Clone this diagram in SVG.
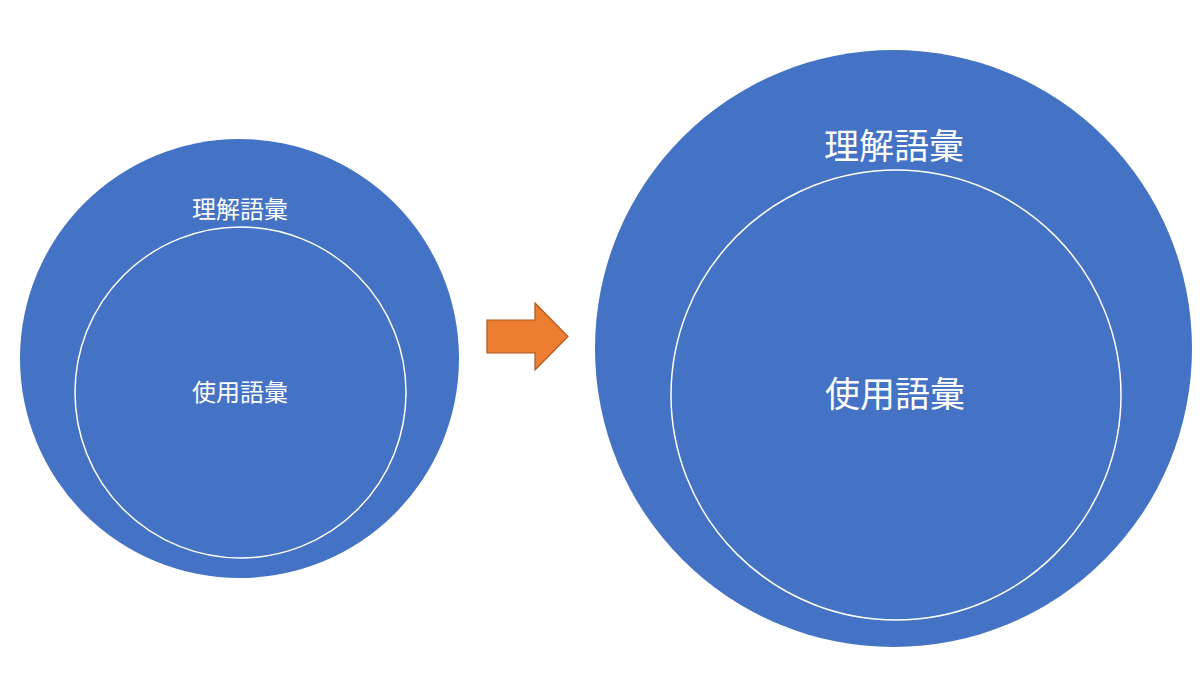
<svg xmlns="http://www.w3.org/2000/svg" width="1200" height="674" viewBox="0 0 1200 674">
<style>
.outer{fill:#4472C4}
.inner{fill:#4472C4;stroke:#fff;stroke-width:1.5}
text{fill:#fff;font-family:"Noto Sans CJK JP","Noto Sans CJK SC",sans-serif;text-anchor:middle;dominant-baseline:central}
</style>
<rect width="1200" height="674" fill="#fff"/>
<g id="left-outer"><circle class="outer" cx="239.5" cy="358.5" r="219.5"/><text x="240" y="207" font-size="24">理解語彙</text></g>
<g id="left-inner"><circle class="inner" cx="240.5" cy="392.5" r="165.5"/><text x="240" y="390" font-size="24">使用語彙</text></g>
<g id="right-outer"><circle class="outer" cx="893.5" cy="348.5" r="298.5"/><text x="894" y="143" font-size="35">理解語彙</text></g>
<g id="right-inner"><circle class="inner" cx="896" cy="395" r="225"/><text x="895" y="391" font-size="35">使用語彙</text></g>
<g id="connectors"><polygon points="487,320 535,320 535,303 568,336.5 535,370 535,353 487,353" fill="#ED7D31" stroke="#AE5A21" stroke-width="1.2"/></g>
</svg>
